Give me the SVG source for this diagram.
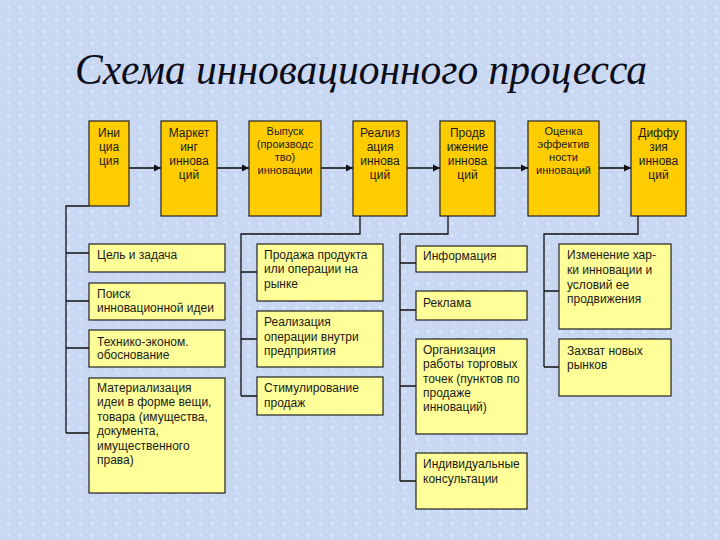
<svg xmlns="http://www.w3.org/2000/svg" width="720" height="540" viewBox="0 0 720 540">
  <defs>
    <pattern id="bgtex" x="0" y="0" width="12" height="12" patternUnits="userSpaceOnUse">
      <rect width="12" height="12" fill="#C8D8F2"/>
      <rect x="1" y="2" width="3" height="2" fill="#D6D2EE"/>
      <rect x="7" y="6" width="3" height="3" fill="#DAE5F8"/>
      <rect x="4" y="9" width="2" height="2" fill="#BFD2EE"/>
      <rect x="9" y="1" width="2" height="2" fill="#D4DDF4"/>
    </pattern>
    <marker id="arr" markerWidth="8" markerHeight="8" refX="7" refY="4" orient="auto" markerUnits="userSpaceOnUse">
      <path d="M0,0.5 L7,4 L0,7.5 Z" fill="#111"/>
    </marker>
    <style>
      .top { fill: #FFCC00; stroke: #222; stroke-width: 1.2; }
      .sub { fill: #FFFF99; stroke: #222; stroke-width: 1.2; }
      .tt { font-family: "Liberation Sans", Arial, sans-serif; font-size: 12px; fill: #1a1a1a; text-anchor: middle; }
      .ts { font-family: "Liberation Sans", Arial, sans-serif; font-size: 11px; fill: #1a1a1a; text-anchor: middle; }
      .tl { font-family: "Liberation Sans", Arial, sans-serif; font-size: 12px; fill: #1a1a1a; }
      .ln { fill: none; stroke: #111; stroke-width: 1.3; }
      .ar { fill: none; stroke: #111; stroke-width: 1.6; marker-end: url(#arr); }
    </style>
  </defs>
  <rect width="720" height="540" fill="url(#bgtex)"/>

  <text x="75" y="84" font-family="'Liberation Serif', 'Times New Roman', serif" font-style="italic" font-size="44" fill="#0d0d1a" textLength="572" lengthAdjust="spacingAndGlyphs">Схема инновационного процесса</text>

  <g id="connectors">
    <line class="ar" x1="129" y1="168" x2="161" y2="168"/>
    <line class="ar" x1="217" y1="168" x2="249" y2="168"/>
    <line class="ar" x1="321" y1="168" x2="353" y2="168"/>
    <line class="ar" x1="407" y1="168" x2="440" y2="168"/>
    <line class="ar" x1="495" y1="168" x2="528" y2="168"/>
    <line class="ar" x1="599" y1="168" x2="631" y2="168"/>

    <path class="ln" d="M89,206 H66 V433 M66,253 H89 M66,301 H89 M66,348 H89 M66,433 H89"/>
    <path class="ln" d="M360,216 V234 H241 V396 M241,272 H257 M241,339 H257 M241,396 H257"/>
    <path class="ln" d="M448,216 V234 H400 V481 M400,263 H416 M400,310 H416 M400,386 H416 M400,481 H416"/>
    <path class="ln" d="M638,216 V234 H544 V367 M544,291 H559 M544,367 H559"/>
  </g>

  <g id="n-initiation">
    <rect class="top" x="89" y="121" width="40" height="85"/>
    <text class="tt" x="109" y="137">Ини</text>
    <text class="tt" x="109" y="151">циа</text>
    <text class="tt" x="109" y="165">ция</text>
  </g>
  <g id="n-marketing">
    <rect class="top" x="161" y="121" width="56" height="95"/>
    <text class="tt" x="189" y="137">Маркет</text>
    <text class="tt" x="189" y="151">инг</text>
    <text class="tt" x="189" y="165">иннова</text>
    <text class="tt" x="189" y="179">ций</text>
  </g>
  <g id="n-production">
    <rect class="top" x="249" y="121" width="72" height="95"/>
    <text class="ts" x="285" y="135">Выпуск</text>
    <text class="ts" x="285" y="148">(производс</text>
    <text class="ts" x="285" y="161">тво)</text>
    <text class="ts" x="285" y="174">инновации</text>
  </g>
  <g id="n-realization">
    <rect class="top" x="353" y="121" width="54" height="95"/>
    <text class="tt" x="380" y="137">Реализ</text>
    <text class="tt" x="380" y="151">ация</text>
    <text class="tt" x="380" y="165">иннова</text>
    <text class="tt" x="380" y="179">ций</text>
  </g>
  <g id="n-promotion">
    <rect class="top" x="440" y="121" width="55" height="95"/>
    <text class="tt" x="467.5" y="137">Продв</text>
    <text class="tt" x="467.5" y="151">ижение</text>
    <text class="tt" x="467.5" y="165">иннова</text>
    <text class="tt" x="467.5" y="179">ций</text>
  </g>
  <g id="n-evaluation">
    <rect class="top" x="528" y="121" width="71" height="95"/>
    <text class="ts" x="563.5" y="135">Оценка</text>
    <text class="ts" x="563.5" y="148">эффектив</text>
    <text class="ts" x="563.5" y="161">ности</text>
    <text class="ts" x="563.5" y="174">инноваций</text>
  </g>
  <g id="n-diffusion">
    <rect class="top" x="631" y="121" width="55" height="95"/>
    <text class="tt" x="658.5" y="137">Диффу</text>
    <text class="tt" x="658.5" y="151">зия</text>
    <text class="tt" x="658.5" y="165">иннова</text>
    <text class="tt" x="658.5" y="179">ций</text>
  </g>

  <g id="n-goal">
    <rect class="sub" x="89" y="244" width="136" height="28"/>
    <text class="tl" x="97" y="259">Цель и задача</text>
  </g>
  <g id="n-search">
    <rect class="sub" x="89" y="283" width="136" height="37"/>
    <text class="tl" x="97" y="298">Поиск</text>
    <text class="tl" x="97" y="312">инновационной идеи</text>
  </g>
  <g id="n-feasibility">
    <rect class="sub" x="89" y="330" width="136" height="37"/>
    <text class="tl" x="97" y="346">Технико-эконом.</text>
    <text class="tl" x="97" y="359">обоснование</text>
  </g>
  <g id="n-materialization">
    <rect class="sub" x="89" y="378" width="136" height="115"/>
    <text class="tl" x="97" y="392">Материализация</text>
    <text class="tl" x="97" y="406">идеи в форме вещи,</text>
    <text class="tl" x="97" y="421">товара (имущества,</text>
    <text class="tl" x="97" y="435">документа,</text>
    <text class="tl" x="97" y="450">имущественного</text>
    <text class="tl" x="97" y="464">права)</text>
  </g>

  <g id="n-sale">
    <rect class="sub" x="257" y="244" width="126" height="57"/>
    <text class="tl" x="264" y="259">Продажа продукта</text>
    <text class="tl" x="264" y="273">или операции на</text>
    <text class="tl" x="264" y="288">рынке</text>
  </g>
  <g id="n-internal">
    <rect class="sub" x="257" y="311" width="126" height="56"/>
    <text class="tl" x="264" y="326">Реализация</text>
    <text class="tl" x="264" y="341">операции внутри</text>
    <text class="tl" x="264" y="355">предприятия</text>
  </g>
  <g id="n-stimulation">
    <rect class="sub" x="257" y="377" width="126" height="38"/>
    <text class="tl" x="264" y="392">Стимулирование</text>
    <text class="tl" x="264" y="407">продаж</text>
  </g>

  <g id="n-information">
    <rect class="sub" x="416" y="246" width="111" height="26"/>
    <text class="tl" x="423" y="260">Информация</text>
  </g>
  <g id="n-advertising">
    <rect class="sub" x="416" y="291" width="111" height="29"/>
    <text class="tl" x="423" y="307">Реклама</text>
  </g>
  <g id="n-outlets">
    <rect class="sub" x="416" y="339" width="111" height="95"/>
    <text class="tl" x="423" y="354">Организация</text>
    <text class="tl" x="423" y="368">работы торговых</text>
    <text class="tl" x="423" y="383">точек (пунктов по</text>
    <text class="tl" x="423" y="397">продаже</text>
    <text class="tl" x="423" y="411">инноваций)</text>
  </g>
  <g id="n-consult">
    <rect class="sub" x="416" y="453" width="111" height="56"/>
    <text class="tl" x="423" y="468">Индивидуальные</text>
    <text class="tl" x="423" y="483">консультации</text>
  </g>

  <g id="n-change">
    <rect class="sub" x="559" y="244" width="112" height="85"/>
    <text class="tl" x="567" y="259">Изменение хар-</text>
    <text class="tl" x="567" y="274">ки инновации и</text>
    <text class="tl" x="567" y="289">условий ее</text>
    <text class="tl" x="567" y="303">продвижения</text>
  </g>
  <g id="n-markets">
    <rect class="sub" x="559" y="339" width="112" height="57"/>
    <text class="tl" x="567" y="355">Захват новых</text>
    <text class="tl" x="567" y="369">рынков</text>
  </g>
</svg>
